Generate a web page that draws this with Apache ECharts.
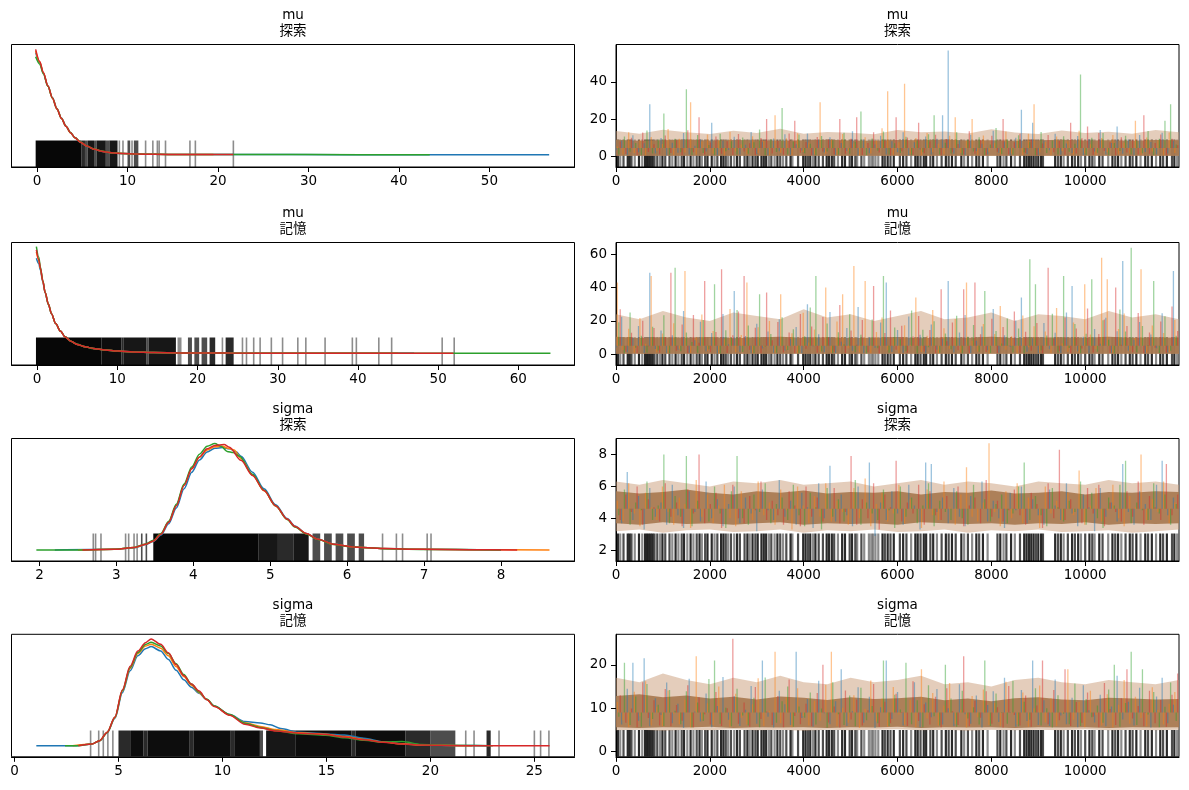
<!DOCTYPE html>
<html lang="ja">
<head>
<meta charset="UTF-8">
<title>trace plot</title>
<script src="https://cdn.jsdelivr.net/npm/echarts@6.0.0/dist/echarts.min.js"></script>
<style>
  html, body { margin: 0; padding: 0; background: #fff; }
  #main { width: 1189px; height: 790px; }
</style>
</head>
<body>
<div id="main"></div>
<script>
// chain colours (matplotlib C0..C3)
var chainColors = ['#1f77b4', '#ff7f0e', '#2ca02c', '#d62728'];

// ---------- tick labels ----------
var muExpXTicks = [0, 10, 20, 30, 40, 50];
var muMemXTicks = [0, 10, 20, 30, 40, 50, 60];
var sigExpXTicks = [2, 3, 4, 5, 6, 7, 8];
var sigMemXTicks = [0, 5, 10, 15, 20, 25];
var iterTicks = [0, 2000, 4000, 6000, 8000, 10000];
var muExpYTicks = [0, 20, 40];
var muMemYTicks = [0, 20, 40, 60];
var sigExpYTicks = [2, 4, 6, 8];
var sigMemYTicks = [0, 10, 20];

// ---------- KDE per chain, [value, density (scaled to peak ~1)] ----------
var muExpKdeC0 = [[-0.15,0.97],[0.3,0.875],[0.7,0.775],[1.2,0.655],[1.7,0.545],[2.2,0.44],[2.7,0.35],[3.2,0.272],[3.7,0.21],[4.2,0.16],[4.8,0.118],[5.5,0.082],[6.3,0.053],[7.2,0.032],[8.2,0.019],[9.5,0.011],[11,0.007],[13,0.0045],[16,0.003],[20,0.002],[28,0.0015],[40,0.001],[56.6,0.001]];
var muExpKdeC1 = [[-0.15,0.985],[0.3,0.88],[0.7,0.778],[1.2,0.652],[1.7,0.54],[2.2,0.437],[2.7,0.347],[3.2,0.27],[3.7,0.208],[4.2,0.16],[4.8,0.119],[5.5,0.083],[6.3,0.054],[7.2,0.033],[8.2,0.02],[9.5,0.012],[11,0.007],[13,0.0045],[16,0.003],[19.5,0.002]];
var muExpKdeC2 = [[-0.15,0.93],[0.3,0.86],[0.7,0.77],[1.2,0.65],[1.7,0.538],[2.2,0.434],[2.7,0.345],[3.2,0.27],[3.7,0.211],[4.2,0.163],[4.8,0.121],[5.5,0.084],[6.3,0.054],[7.2,0.033],[8.2,0.019],[9.5,0.011],[11,0.007],[13,0.0045],[16,0.003],[20,0.002],[30,0.0015],[43.4,0.001]];
var muExpKdeC3 = [[-0.15,1.0],[0.3,0.885],[0.7,0.78],[1.2,0.655],[1.7,0.54],[2.2,0.435],[2.7,0.345],[3.2,0.27],[3.7,0.21],[4.2,0.162],[4.8,0.12],[5.5,0.083],[6.3,0.053],[7.2,0.032],[8.2,0.019],[9.5,0.011],[11,0.007],[13,0.0045],[16,0.003],[19,0.002],[21.7,0.0018]];

var muMemKdeC0 = [[-0.1,0.89],[0.2,0.84],[0.4,0.78],[0.7,0.67],[1.0,0.565],[1.4,0.458],[1.8,0.37],[2.3,0.28],[2.9,0.21],[3.5,0.155],[4.2,0.115],[5.0,0.085],[6.0,0.063],[7.0,0.048],[8.5,0.034],[10,0.023],[12,0.014],[14.5,0.009],[18,0.006],[24,0.004],[32,0.003],[42,0.0025],[47,0.002]];
var muMemKdeC1 = [[-0.1,0.95],[0.2,0.87],[0.4,0.795],[0.7,0.678],[1.0,0.569],[1.4,0.46],[1.8,0.37],[2.3,0.28],[2.9,0.21],[3.5,0.155],[4.2,0.115],[5.0,0.085],[6.0,0.063],[7.0,0.048],[8.5,0.034],[10,0.023],[12,0.014],[14.5,0.009],[18,0.006],[24,0.004],[32,0.003],[45,0.002]];
var muMemKdeC2 = [[-0.1,1.0],[0.2,0.9],[0.4,0.81],[0.7,0.685],[1.0,0.572],[1.4,0.46],[1.8,0.37],[2.3,0.28],[2.9,0.21],[3.5,0.156],[4.2,0.116],[5.0,0.086],[6.0,0.063],[7.0,0.047],[8.5,0.033],[10,0.022],[12,0.014],[14.5,0.009],[18,0.006],[24,0.004],[32,0.003],[42,0.0025],[52,0.002],[64,0.002]];
var muMemKdeC3 = [[-0.1,0.97],[0.2,0.88],[0.4,0.8],[0.7,0.68],[1.0,0.57],[1.4,0.46],[1.8,0.37],[2.3,0.28],[2.9,0.21],[3.5,0.155],[4.2,0.115],[5.0,0.085],[6.0,0.063],[7.0,0.048],[8.5,0.034],[10,0.023],[12,0.014],[14.5,0.009],[18,0.006],[24,0.004],[32,0.003],[42,0.0025],[51.9,0.002]];

var sigExpKdeC0 = [[2.2,0.0],[2.98,0.006],[3.23,0.02],[3.38,0.05],[3.48,0.08],[3.58,0.14],[3.68,0.245],[3.78,0.395],[3.88,0.575],[3.98,0.73],[4.08,0.845],[4.18,0.92],[4.28,0.955],[4.38,0.962],[4.47,0.95],[4.56,0.92],[4.62,0.88],[4.77,0.73],[4.92,0.575],[5.07,0.425],[5.22,0.295],[5.32,0.225],[5.47,0.155],[5.62,0.1],[5.82,0.055],[6.07,0.028],[6.47,0.013],[6.96,0.006],[8.0,0.0]];
var sigExpKdeC1 = [[2.5,0.0],[2.98,0.006],[3.23,0.022],[3.38,0.053],[3.48,0.085],[3.58,0.15],[3.68,0.262],[3.78,0.42],[3.88,0.61],[3.98,0.765],[4.08,0.87],[4.18,0.94],[4.28,0.97],[4.38,0.975],[4.45,0.955],[4.53,0.94],[4.62,0.86],[4.77,0.705],[4.92,0.555],[5.07,0.412],[5.22,0.288],[5.32,0.22],[5.47,0.152],[5.62,0.1],[5.82,0.054],[6.07,0.028],[6.47,0.013],[6.96,0.006],[7.6,0.002],[8.63,0.0]];
var sigExpKdeC2 = [[1.96,0.0],[2.56,0.0],[2.98,0.007],[3.23,0.024],[3.38,0.056],[3.48,0.09],[3.58,0.155],[3.68,0.27],[3.78,0.43],[3.88,0.62],[3.98,0.78],[4.08,0.9],[4.18,0.975],[4.28,1.0],[4.36,0.975],[4.44,0.925],[4.52,0.915],[4.6,0.88],[4.77,0.71],[4.92,0.56],[5.07,0.415],[5.22,0.285],[5.32,0.215],[5.47,0.15],[5.62,0.098],[5.82,0.052],[6.07,0.027],[6.47,0.012],[6.96,0.005],[8.0,0.0]];
var sigExpKdeC3 = [[2.56,0.0],[2.98,0.006],[3.23,0.022],[3.38,0.054],[3.48,0.085],[3.58,0.148],[3.68,0.259],[3.78,0.416],[3.88,0.605],[3.98,0.763],[4.08,0.874],[4.18,0.95],[4.28,0.982],[4.4,0.99],[4.47,0.965],[4.62,0.842],[4.77,0.7],[4.92,0.558],[5.07,0.416],[5.22,0.29],[5.32,0.22],[5.47,0.155],[5.62,0.101],[5.82,0.054],[6.07,0.028],[6.47,0.013],[6.96,0.006],[7.6,0.002],[8.21,0.0]];

var sigMemKdeC0 = [[1.05,0.0],[3.0,0.0],[3.72,0.015],[4.09,0.045],[4.46,0.12],[4.83,0.255],[5.19,0.495],[5.56,0.7],[5.93,0.84],[6.3,0.905],[6.57,0.925],[7.03,0.885],[7.4,0.805],[7.77,0.705],[8.14,0.615],[8.51,0.545],[8.88,0.49],[9.24,0.43],[9.61,0.37],[10.35,0.29],[11.08,0.225],[11.82,0.212],[12.3,0.195],[12.8,0.16],[13.66,0.125],[14.95,0.11],[15.87,0.1],[16.8,0.07],[17.72,0.036],[18.64,0.018],[19.56,0.008],[21.4,0.001],[22.8,0.0]];
var sigMemKdeC1 = [[2.8,0.0],[3.72,0.016],[4.09,0.046],[4.46,0.123],[4.83,0.262],[5.19,0.51],[5.56,0.72],[5.93,0.86],[6.3,0.93],[6.57,0.948],[7.03,0.91],[7.4,0.84],[7.77,0.74],[8.14,0.645],[8.51,0.565],[8.88,0.495],[9.24,0.43],[9.61,0.368],[10.35,0.287],[11.08,0.215],[11.82,0.18],[12.56,0.15],[13.66,0.12],[14.95,0.106],[15.87,0.085],[16.8,0.058],[17.72,0.034],[18.64,0.017],[19.56,0.007],[22,0.0]];
var sigMemKdeC2 = [[2.43,0.0],[3.07,0.0],[3.72,0.016],[4.09,0.046],[4.46,0.124],[4.83,0.265],[5.19,0.515],[5.56,0.73],[5.93,0.87],[6.3,0.945],[6.57,0.965],[7.03,0.93],[7.4,0.86],[7.77,0.765],[8.14,0.665],[8.51,0.575],[8.88,0.5],[9.24,0.435],[9.61,0.37],[10.35,0.29],[11.08,0.21],[11.82,0.17],[12.56,0.14],[13.66,0.112],[14.95,0.098],[15.87,0.075],[16.8,0.05],[17.72,0.033],[18.64,0.04],[19.56,0.012],[21.4,0.001],[23,0.0]];
var sigMemKdeC3 = [[3.07,0.0],[3.72,0.016],[4.09,0.047],[4.46,0.126],[4.83,0.268],[5.19,0.521],[5.56,0.741],[5.93,0.883],[6.3,0.962],[6.57,0.997],[7.03,0.946],[7.4,0.867],[7.77,0.757],[8.14,0.655],[8.51,0.575],[8.88,0.51],[9.24,0.43],[9.61,0.365],[10.35,0.284],[11.08,0.2],[11.82,0.165],[12.56,0.138],[13.66,0.117],[14.95,0.104],[15.87,0.08],[16.8,0.055],[17.72,0.032],[18.64,0.016],[19.56,0.006],[21.4,0.0],[25.73,0.0]];

// ---------- divergent draws on the value axis: [from, to, count] ----------
var muExpRug = [[-0.15,4.9,6],[4.9,5.3,3],[5.3,5.6,2],[5.6,6.3,4],[6.3,6.6,2],[6.6,7.6,4],[7.6,8.0,2],[8.0,8.9,4],[9.1,9.1,1],[9.5,9.5,1],[10.0,10.3,2],[10.5,10.5,1],[10.7,11.2,2],[12.0,12.0,1],[12.8,12.8,1],[13.3,13.3,1],[13.5,13.5,1],[14.2,14.2,1],[16.9,16.9,1],[17.5,17.5,1],[21.7,21.7,1]];
var muMemRug = [[-0.15,8.0,6],[8.0,10.5,5],[10.5,10.8,3],[10.8,13.6,4],[13.6,13.9,2],[13.9,17.3,4],[17.5,18.0,1],[18.8,19.3,2],[19.6,20.2,2],[20.5,21.2,2],[21.5,22.2,3],[23.0,23.2,1],[23.5,24.5,3],[25.6,25.6,1],[26.1,26.1,1],[27.0,27.0,1],[27.8,27.8,1],[29.2,29.2,1],[30.6,30.6,1],[32.5,32.5,1],[33.5,33.5,1],[35.9,35.9,1],[39.3,39.3,1],[39.8,39.8,1],[42.6,42.6,1],[44.2,44.2,1],[50.5,50.5,1],[52.0,52.0,1]];
var sigExpRug = [[2.70,2.70,1],[2.73,2.73,1],[2.80,2.80,1],[3.12,3.12,1],[3.16,3.16,1],[3.23,3.23,1],[3.27,3.27,1],[3.33,3.33,2],[3.38,3.40,2],[3.48,4.85,6],[4.85,5.1,4],[5.1,5.3,3],[5.3,5.5,4],[5.55,5.65,2],[5.7,5.8,2],[5.85,5.95,2],[6.0,6.1,2],[6.15,6.22,2],[6.46,6.46,1],[6.64,6.64,1],[6.72,6.72,1],[7.04,7.04,1],[7.09,7.09,1]];
var sigMemRug = [[3.66,3.66,1],[4.05,4.05,1],[4.27,4.27,1],[4.49,4.49,1],[4.73,4.73,1],[5.0,5.6,3],[5.6,6.2,5],[6.2,6.4,3],[6.4,8.4,5],[8.4,8.6,3],[8.6,10.4,5],[10.4,10.6,3],[10.6,11.8,5],[11.8,11.95,2],[12.1,13.5,4],[13.5,16.2,5],[16.2,16.4,3],[16.4,18.8,5],[18.8,20.0,3],[20.0,21.2,2],[21.7,21.7,1],[22.1,22.1,1],[22.7,22.9,3],[23.3,23.3,1],[25.0,25.0,1],[25.3,25.3,1],[25.7,25.7,1]];

// ---------- divergent draws by iteration: [iteration, count] ----------
var divIters = [[40,3],[90,1],[160,2],[250,3],[290,3],[330,2],[400,1],[490,3],[560,1],[620,3],[660,3],[700,3],[740,3],[780,3],[820,2],[880,2],[940,1],[990,3],[1050,2],[1140,2],[1200,1],[1270,3],[1330,1],[1400,2],[1450,3],[1520,1],[1590,3],[1650,1],[1720,2],[1780,3],[1830,1],[1900,2],[1950,3],[2040,3],[2100,1],[2160,2],[2240,3],[2290,3],[2340,2],[2390,1],[2450,2],[2520,1],[2580,3],[2640,2],[2740,2],[2800,3],[2850,1],[2910,3],[2970,2],[3020,3],[3100,3],[3150,3],[3200,3],[3260,1],[3310,2],[3380,1],[3440,3],[3500,2],[3560,1],[3630,2],[3720,3],[3760,1],[3880,2],[3990,3],[4040,3],[4090,2],[4140,3],[4200,1],[4250,3],[4320,2],[4410,2],[4490,3],[4540,3],[4600,3],[4650,2],[4730,1],[4820,3],[4880,3],[4980,2],[5030,3],[5100,2],[5140,1],[5230,2],[5290,1],[5390,1],[5440,1],[5480,1],[5530,1],[5590,1],[5680,3],[5730,2],[5790,3],[5850,2],[5920,3],[6050,2],[6120,3],[6190,2],[6290,1],[6380,3],[6430,3],[6490,2],[6560,3],[6610,3],[6700,2],[6760,3],[6840,1],[6940,2],[7030,3],[7090,2],[7160,3],[7240,2],[7360,3],[7420,1],[7500,2],[7590,1],[7680,3],[7740,2],[7820,3],[7920,1],[8130,2],[8190,3],[8260,1],[8320,2],[8420,3],[8500,1],[8610,2],[8700,3],[8750,3],[8800,3],[8850,3],[8900,3],[8950,2],[9000,3],[9060,3],[9100,2],[9360,3],[9420,2],[9480,3],[9540,1],[9630,2],[9720,3],[9780,2],[9850,3],[9910,1],[10000,2],[10090,3],[10150,2],[10200,1],[10300,3],[10370,2],[10490,1],[10580,3],[10640,2],[10700,3],[10770,1],[10860,2],[10950,3],[11010,2],[11090,3],[11180,1],[11280,3],[11340,2],[11420,3],[11510,1],[11600,3],[11660,2],[11740,3],[11850,2],[11900,3],[11960,1]];

// ---------- traces: one draw every traceStep iterations, chains offset by traceOffset ----------
var traceStep = 120;
var traceOffset = [0, 30, 60, 90];
var muExpC0 = [3.1,8.4,0.6,11.2,2.0,6.9,28,1.4,9.8,0.3, 7.2,1.8,12.5,0.9,5.6,9.1,2.4,18,0.5,8.2, 3.3,10.4,0.8,6.1,13.0,1.1,7.7,0.4,9.5,2.6, 11.8,0.7,6.4,3.0,12.2,0.5,8.8,1.9,10.1,0.6, 7.0,2.8,13.4,0.3,9.0,1.5,6.3,11.0,0.9,8.0, 2.1,12.8,0.4,7.4,3.6,10.6,0.8,9.3,22,57, 1.2,8.6,0.5,11.5,2.7,6.6,0.9,13.7,1.6,7.9, 0.3,9.9,25,1.0,18,0.6,8.3,3.2,12.0,0.7, 6.8,1.7,10.8,0.4,9.2,2.5,14.1,0.8,7.1,16, 1.3,8.9,0.5,11.3,2.2,7.6,0.9,12.6,1.4,8.1];
var muExpC1 = [5.2,0.8,12.9,1.6,8.7,0.4,10.3,2.9,6.5,14.6, 0.6,9.4,1.9,29,0.7,7.8,11.6,1.2,8.5,0.3, 13.1,2.4,6.2,0.9,10.7,1.5,8.1,0.5,22,1.8, 9.6,0.4,12.3,2.2,7.3,0.8,29,1.3,9.0,0.6, 11.9,2.7,6.8,0.5,10.2,1.4,8.4,15.0,35,0.7, 7.5,39,1.1,9.7,0.4,12.4,2.0,6.7,0.9,10.9, 21,1.6,8.2,20,0.5,11.1,2.3,7.0,0.8,13.3, 1.2,9.1,0.6,12.0,28,1.9,7.6,0.4,10.5,2.8, 8.0,0.7,13.6,1.5,6.4,0.5,9.8,2.1,11.4,0.9, 7.2,1.3,19,0.6,10.0,2.5,8.6,0.4,12.7,1.7];
var muExpC2 = [0.9,10.6,2.3,7.1,0.5,13.8,1.4,8.9,23,0.7, 9.3,2.0,36,0.6,11.4,1.7,6.0,0.4,12.1,2.6, 8.0,0.8,10.0,1.3,7.4,14.3,0.5,9.1,2.2,26, 0.9,7.9,11.7,1.5,6.6,0.4,10.8,2.4,8.5,0.7, 12.6,1.2,7.7,24,0.6,9.5,2.9,13.2,0.8,6.9, 1.6,10.4,0.5,8.3,2.1,11.8,22,0.9,7.2,1.4, 12.9,0.6,8.8,2.5,10.1,0.4,6.3,15.1,1.1,9.0, 0.7,11.2,2.0,7.5,0.5,13.0,1.6,8.4,0.9,10.7, 2.3,6.7,44,0.6,9.9,1.8,12.4,0.4,7.0,2.7, 11.0,0.8,8.1,1.5,13.5,0.5,9.4,19,28,6.2];
var muExpC3 = [7.8,1.1,9.9,0.4,12.7,2.2,6.4,0.8,11.1,1.6, 8.6,0.5,13.9,2.0,21,0.9,7.3,10.5,1.3,8.0, 0.6,11.9,2.5,6.9,0.4,9.7,20,1.4,8.2,0.7, 12.2,19,1.8,7.6,0.5,10.3,2.4,8.9,0.8,20, 1.2,9.4,21,0.6,7.1,12.8,1.9,8.3,0.4,21, 2.6,10.0,0.7,18,1.5,7.8,11.5,0.5,9.2,2.1, 6.5,0.9,13.4,1.3,8.7,0.4,10.9,2.3,20,0.8, 7.4,12.1,1.7,9.0,0.5,6.8,11.3,2.0,8.1,0.7, 18,1.4,9.6,16,0.6,12.5,2.8,7.5,0.4,10.2, 1.9,8.5,0.8,22,1.2,7.0,11.6,0.5,9.3,5.8];

var muMemC0 = [4.0,22.5,1.2,9.8,17.0,0.7,49,3.1,14.2,0.5, 11.3,2.6,26.0,0.9,8.4,19.5,1.8,12.7,0.4,24.1, 6.0,38,1.5,10.9,0.6,18.3,3.4,13.6,0.8,21.0, 2.2,9.1,16.4,0.5,30,4.8,12.0,1.1,25.3,0.7, 7.5,15.8,2.0,28.4,0.6,10.2,3.9,19.1,43,1.3, 14.5,0.8,22.7,5.1,11.6,0.4,17.9,2.7,9.3,44, 1.0,13.1,23.6,0.6,8.0,16.7,2.4,27.2,0.9,11.4, 4.5,20.3,34,1.4,9.6,0.5,18.8,3.0,12.9,0.7, 25.0,41,1.7,10.5,0.4,15.2,6.3,21.9,0.8,13.8, 56,2.1,8.7,19.4,0.6,11.9,3.6,24.6,1.2,50];
var muMemC1 = [43,2.5,15.3,0.8,21.7,6.2,47,1.0,12.4,0.5, 18.6,3.3,50,0.7,10.1,23.8,1.9,14.0,0.4,8.9, 27.1,1.2,11.5,43,0.6,16.2,4.4,20.0,0.9,36, 2.8,12.6,0.5,24.9,7.0,14.9,1.4,40,0.8,19.7, 36,3.6,53,1.1,44,0.6,13.3,22.0,2.3,9.5, 0.7,17.4,5.5,34,1.3,11.0,26.5,0.5,15.6,3.2, 21.2,0.9,43,8.1,1.6,18.1,0.4,12.2,29.0,2.6, 10.7,0.6,23.3,4.1,16.8,1.0,13.7,0.5,27.8,6.6, 1.5,19.0,0.8,42,11.8,3.1,58,45,0.6,15.1, 24.4,2.0,9.9,51,0.7,17.2,5.0,12.8,1.3,20.6];
var muMemC2 = [19.2,0.6,25.0,3.8,11.1,0.9,16.5,2.2,23.4,0.5, 52,1.7,13.0,7.3,0.8,20.6,2.9,42,0.4,14.4, 9.7,26.6,1.3,17.3,0.6,36,4.6,12.1,0.9,22.2, 2.5,15.0,0.5,10.8,28.1,47,1.6,18.4,0.7,13.2, 5.9,24.0,1.1,11.7,0.4,20.9,3.5,47,0.8,16.0, 9.0,1.8,26.2,0.5,14.7,4.2,19.8,0.9,12.5,2.9, 23.1,0.6,10.4,17.6,1.4,38,0.7,13.9,6.4,21.5, 1.0,15.5,0.5,57,42,2.4,11.2,24.3,0.8,47, 3.7,18.2,0.6,12.3,45,1.5,20.4,8.6,0.4,26.9, 13.6,64,1.2,17.0,5.3,44,0.7,22.8,2.0,11.0];
var muMemC3 = [27.0,1.4,12.9,0.6,20.1,4.7,15.7,0.8,10.3,49, 2.1,17.8,0.5,23.5,6.8,44,1.2,13.4,51,0.7, 11.4,25.6,47,2.7,15.9,0.5,37,8.3,19.3,1.0, 13.1,0.6,24.2,3.2,16.6,0.9,22.4,10.0,1.5,29.6, 0.7,14.3,5.7,20.5,1.1,41,0.4,12.8,26.3,2.6, 17.1,0.8,10.6,23.0,1.6,14.6,0.5,39,7.8,19.0, 2.3,39,0.6,43,12.0,1.3,21.3,0.7,16.3,4.9, 25.7,0.9,13.5,2.0,18.7,0.5,52,9.4,1.8,22.1, 0.6,15.4,3.4,27.5,1.0,12.2,20.8,0.7,40,5.6, 16.9,1.1,24.7,0.5,13.0,3.8,19.6,0.8,28.6,14.0];

var sigExpC0 = [4.6,3.7,6.9,3.9,5.4,3.3,5.9,4.1,5.0,3.6, 6.1,4.2,3.4,5.7,4.4,3.8,6.3,4.0,5.2,3.5, 4.9,6.0,3.7,5.3,4.3,3.2,5.8,4.5,3.9,6.4, 4.1,5.1,3.6,5.6,4.7,3.4,6.2,4.0,7.3,3.8, 5.5,4.2,3.5,6.0,4.6,7.5,2.9,5.0,3.9,5.7, 4.3,3.6,6.1,4.8,3.3,7.5,7.4,4.4,5.3,3.7, 5.9,4.1,3.5,5.4,4.6,6.3,3.8,5.1,4.0,3.4, 5.6,4.5,6.0,3.7,5.2,4.2,3.6,5.8,4.8,3.9, 6.2,4.3,3.5,5.5,4.7,3.2,5.9,4.1,5.0,3.8, 7.4,4.4,3.6,5.7,4.9,3.9,6.1,7.6,4.2,5.3];
var sigExpC1 = [5.1,3.8,6.2,4.3,3.5,5.6,4.7,3.9,6.0,4.4, 3.6,5.3,4.9,3.4,6.4,4.1,5.5,3.7,4.8,6.1, 4.0,3.5,5.7,4.6,3.9,6.3,4.2,5.0,3.6,5.8, 4.5,3.3,6.0,4.8,3.7,5.4,4.1,6.2,3.8,5.1, 4.4,3.6,5.9,4.0,6.5,3.5,4.9,5.6,3.8,4.3, 6.1,3.7,5.2,4.6,3.4,5.8,4.2,3.9,6.3,4.7, 3.6,5.5,7.2,4.1,3.8,5.0,8.7,4.4,3.5,5.7, 4.0,6.2,3.7,5.3,4.6,3.4,6.0,4.3,5.1,3.9, 5.6,4.2,7.0,3.6,4.8,5.9,3.8,4.5,6.1,4.0, 3.5,5.4,4.7,8.0,3.9,5.2,4.4,6.3,3.7,5.0];
var sigExpC2 = [4.2,5.8,3.6,5.0,4.5,6.3,3.9,4.8,8.0,3.7, 5.4,4.1,7.9,3.5,5.1,4.6,3.8,6.0,4.3,3.4, 5.7,7.9,4.0,3.6,5.5,4.4,6.2,3.7,4.9,5.3, 3.9,6.1,4.2,3.5,5.6,4.7,3.3,5.9,4.1,5.2, 3.8,4.6,6.4,3.6,5.0,4.3,3.9,5.8,4.5,3.4, 6.0,4.1,5.3,3.7,4.8,6.2,3.5,5.1,4.4,3.9, 5.7,4.0,3.6,6.1,4.6,5.2,3.8,4.9,5.5,3.7, 4.3,6.0,7.5,3.9,5.4,4.2,3.5,5.9,4.7,3.8, 5.1,4.4,6.3,3.6,5.6,4.0,3.4,5.3,4.8,6.1, 7.6,3.7,5.0,4.5,3.9,6.2,4.3,5.5,3.6,4.9];
var sigExpC3 = [3.9,5.5,4.4,6.0,3.6,5.2,4.7,3.8,6.2,4.1, 5.0,3.5,5.8,4.3,8.0,3.7,4.9,5.6,3.4,4.6, 6.1,4.0,3.7,5.4,4.5,6.3,3.9,5.1,4.2,3.6, 5.7,4.8,3.5,6.0,4.1,5.3,3.8,4.6,5.9,3.7, 4.4,7.9,3.6,5.2,4.0,6.2,3.3,5.5,4.7,7.6, 3.8,5.0,4.3,6.1,3.6,5.7,4.2,3.9,5.4,4.6, 6.0,3.5,4.8,5.3,3.7,6.4,4.1,5.1,3.8,4.5, 5.8,4.2,3.6,5.6,4.9,3.4,6.2,4.0,8.3,3.9, 5.2,4.6,3.7,5.9,4.3,6.1,3.5,5.0,4.4,3.8, 5.7,4.1,6.3,3.6,5.4,4.7,3.9,7.4,4.2,5.5];

var sigMemC0 = [9.8,6.2,14.5,20.5,7.1,21.5,5.8,12.3,8.4,15.9, 6.5,11.0,5.4,16.8,9.2,6.9,13.4,5.6,10.5,17.2, 7.3,12.8,5.9,9.6,15.1,6.4,21,8.0,5.5,14.0, 10.9,6.1,23,7.7,12.1,5.7,16.3,8.8,6.3,11.6, 19,5.9,9.3,14.8,6.6,12.6,5.4,10.2,21,7.5, 13.7,6.0,9.0,16.0,5.6,11.3,7.9,14.4,6.2,10.0, 5.8,15.5,8.6,6.4,12.9,5.5,10.7,13.9,6.8,17, 9.1,5.7,14.2,7.0,21,6.1,11.8,5.9,16.6,8.3, 6.3,12.4,5.6,15.3,9.5,6.7,13.1,5.8,10.4,17.5, 7.4,11.5,6.0,14.7,8.9,5.5,12.7,17,6.5,10.8];
var sigMemC1 = [11.4,7.2,5.6,13.8,8.1,16.2,6.0,10.3,5.8,14.1, 8.7,6.3,12.0,5.5,22,7.4,11.1,6.1,15.0,9.0, 5.7,13.3,7.8,6.2,10.9,16.9,5.9,9.4,23,6.5, 12.5,5.6,14.6,8.2,6.0,11.7,7.1,15.4,23,5.8, 10.1,6.6,13.0,5.4,9.8,16.4,6.9,12.2,5.7,14.9, 8.5,6.2,11.9,5.6,19,7.6,13.5,6.0,10.6,15.8, 6.4,9.7,5.5,12.8,7.9,14.3,6.1,11.2,5.8,16.1, 8.8,6.3,13.6,5.7,10.0,15.2,6.7,12.3,5.9,9.2, 19,7.3,11.4,5.6,14.0,8.4,6.0,13.2,5.5,10.8, 16.5,6.4,12.6,7.7,5.8,14.8,9.6,6.2,11.0,13.7];
var sigMemC2 = [8.0,20.5,6.1,12.7,5.7,15.6,7.5,10.8,5.9,14.2, 9.4,6.3,13.9,5.5,11.3,7.0,16.7,21,6.4,10.1, 5.8,14.5,8.3,6.0,12.4,5.6,17.1,9.0,6.6,11.6, 15.0,5.7,10.4,7.8,13.6,6.2,9.9,5.5,16.0,8.6, 6.1,12.9,5.8,14.7,7.2,10.5,6.5,21,5.9,13.1, 9.7,20.5,6.3,11.8,5.6,15.3,8.1,6.0,20,12.2, 5.7,14.0,7.6,10.2,6.2,21,5.9,13.4,9.1,6.4, 16.3,5.8,11.5,7.3,14.6,6.0,10.0,5.5,13.0,8.7, 6.3,15.7,5.9,12.1,7.9,10.6,6.6,14.3,20,5.7, 11.2,23,6.1,19,8.5,13.7,5.6,10.3,15.9,7.0];
var sigMemC3 = [13.0,6.6,9.9,5.6,16.0,7.7,11.8,6.0,14.4,5.8, 10.7,7.1,15.3,5.5,12.5,8.6,6.2,13.7,5.9,10.0, 26,6.4,11.3,5.7,14.9,7.5,9.2,6.1,12.8,5.6, 16.6,8.2,6.3,11.0,5.8,13.5,20,6.7,10.4,5.5, 14.1,7.4,12.0,6.0,9.5,15.6,5.7,11.5,6.5,13.3, 8.9,5.9,16.2,7.0,10.9,6.2,12.6,5.6,14.6,9.3, 6.1,22,5.8,11.7,7.8,13.9,6.4,10.2,5.5,15.1, 8.4,6.0,12.9,5.7,10.6,21,6.3,14.2,7.2,19, 5.9,11.4,6.6,13.6,8.0,5.6,15.8,9.8,6.1,12.3, 19,7.6,10.5,5.8,14.0,6.5,11.9,5.7,13.1,18];

// median of the draws (centre of the bulk)
var muExpMedian = 4.3, muMemMedian = 5.0, sigExpMedian = 4.6, sigMemMedian = 9.0;

// ---------- bulk of overlapping draws (inner = solid, outer = fringe), one value every bandStep iterations ----------
var bandStep = 500;
var muExpBandLo = [0.2,0.2,0.2,0.2,0.2,0.2,0.2,0.2,0.2,0.2,0.2,0.2,0.2,0.2,0.2,0.2,0.2,0.2,0.2,0.2,0.2,0.2,0.2,0.2,0.2];
var muExpBandHi = [8.8,8.3,8.6,8.9,8.4,8.7,8.5,8.2,8.6,8.8,8.4,8.3,8.7,8.5,8.9,8.4,8.6,8.2,8.5,8.8,8.4,8.6,8.3,8.7,8.5];
var muExpOuterLo = [0.1,0.1,0.1,0.1,0.1,0.1,0.1,0.1,0.1,0.1,0.1,0.1,0.1,0.1,0.1,0.1,0.1,0.1,0.1,0.1,0.1,0.1,0.1,0.1,0.1];
var muExpOuterHi = [13.5,12.0,14.2,12.8,11.9,13.6,12.4,14.8,12.1,13.0,12.6,11.8,14.0,12.9,13.3,12.2,14.5,12.7,11.9,13.8,12.5,13.1,12.0,14.1,12.8];
var muMemBandLo = [0.2,0.2,0.2,0.2,0.2,0.2,0.2,0.2,0.2,0.2,0.2,0.2,0.2,0.2,0.2,0.2,0.2,0.2,0.2,0.2,0.2,0.2,0.2,0.2,0.2];
var muMemBandHi = [10.4,9.7,10.1,9.8,10.3,9.6,10.0,10.5,9.8,10.2,9.7,9.9,10.3,9.6,10.1,9.8,10.4,9.7,10.0,10.2,9.8,10.5,9.9,10.1,9.8];
var muMemOuterLo = [0.1,0.1,0.1,0.1,0.1,0.1,0.1,0.1,0.1,0.1,0.1,0.1,0.1,0.1,0.1,0.1,0.1,0.1,0.1,0.1,0.1,0.1,0.1,0.1,0.1];
var muMemOuterHi = [24,21,26,22,20,25,23,21,27,22,24,20,23,26,21,22,25,20,24,23,21,26,22,24,21];
var sigExpBandLo = [3.7,3.6,3.75,3.65,3.7,3.6,3.7,3.75,3.6,3.7,3.65,3.7,3.6,3.75,3.7,3.65,3.7,3.6,3.7,3.65,3.75,3.6,3.7,3.65,3.7];
var sigExpBandHi = [5.7,5.55,5.65,5.8,5.6,5.5,5.7,5.6,5.75,5.55,5.65,5.6,5.7,5.5,5.65,5.6,5.75,5.55,5.6,5.7,5.5,5.65,5.6,5.7,5.65];
var sigExpOuterLo = [3.2,3.3,3.1,3.25,3.3,3.15,3.2,3.3,3.1,3.25,3.2,3.3,3.15,3.2,3.3,3.1,3.25,3.2,3.3,3.15,3.2,3.25,3.1,3.2,3.3];
var sigExpOuterHi = [6.3,6.1,6.4,6.2,6.0,6.3,6.2,6.4,6.1,6.2,6.3,6.0,6.2,6.4,6.1,6.3,6.2,6.0,6.3,6.2,6.1,6.4,6.2,6.3,6.1];
var sigMemBandLo = [5.6,5.4,5.6,5.5,5.7,5.4,5.6,5.5,5.6,5.4,5.6,5.5,5.7,5.4,5.6,5.5,5.6,5.4,5.6,5.5,5.6,5.4,5.6,5.5,5.6];
var sigMemBandHi = [12.8,13.2,12.5,12.9,12.2,12.6,12.0,12.7,12.4,11.9,12.5,12.1,12.3,12.6,11.8,12.2,11.6,12.3,12.5,12.0,11.8,12.4,12.2,12.0,12.1];
var sigMemOuterLo = [4.9,5.0,4.8,5.0,4.9,5.1,4.9,5.0,4.8,5.0,4.9,5.0,5.1,4.9,5.0,4.8,5.0,4.9,5.0,4.9,5.1,4.9,5.0,4.9,5.0];
var sigMemOuterHi = [17,16,18,16.5,15.5,17,16,17.5,16,15.5,17,16,16.5,17.5,15.5,16,15,16.5,17,16,15.5,16.5,16,15.5,16.5];

// ---------- layout ----------
var FONT = "'DejaVu Sans', 'Noto Sans CJK JP', sans-serif";
var rowTop = [44.5, 242.5, 438.5, 634.3];
var boxH = 122.5;
var colLeft = [11.5, 616];
var boxW = 563;

var panels = [
  { title: 'mu\n探索', kde: [muExpKdeC0, muExpKdeC1, muExpKdeC2, muExpKdeC3], rug: muExpRug,
    xMin: -2.82, xMax: 59.4, xTicks: muExpXTicks, yMin: -0.116, yMax: 1.047, rugTop: 0.135,
    trace: [muExpC0, muExpC1, muExpC2, muExpC3], median: muExpMedian,
    band: [muExpBandLo, muExpBandHi], outer: [muExpOuterLo, muExpOuterHi],
    tMin: -5.9, tMax: 60.2, tTicks: muExpYTicks, divTop: 8.9 },
  { title: 'mu\n記憶', kde: [muMemKdeC0, muMemKdeC1, muMemKdeC2, muMemKdeC3], rug: muMemRug,
    xMin: -3.2, xMax: 67.0, xTicks: muMemXTicks, yMin: -0.107, yMax: 1.038, rugTop: 0.151,
    trace: [muMemC0, muMemC1, muMemC2, muMemC3], median: muMemMedian,
    band: [muMemBandLo, muMemBandHi], outer: [muMemOuterLo, muMemOuterHi],
    tMin: -6.5, tMax: 67.1, tTicks: muMemYTicks, divTop: 10.1 },
  { title: 'sigma\n探索', kde: [sigExpKdeC0, sigExpKdeC1, sigExpKdeC2, sigExpKdeC3], rug: sigExpRug,
    xMin: 1.637, xMax: 8.955, xTicks: sigExpXTicks, yMin: -0.104, yMax: 1.047, rugTop: 0.155,
    trace: [sigExpC0, sigExpC1, sigExpC2, sigExpC3], median: sigExpMedian,
    band: [sigExpBandLo, sigExpBandHi], outer: [sigExpOuterLo, sigExpOuterHi],
    tMin: 1.33, tMax: 9.0, tTicks: sigExpYTicks, divTop: 3.05 },
  { title: 'sigma\n記憶', kde: [sigMemKdeC0, sigMemKdeC1, sigMemKdeC2, sigMemKdeC3], rug: sigMemRug,
    xMin: -0.144, xMax: 26.93, xTicks: sigMemXTicks, yMin: -0.104, yMax: 1.04, rugTop: 0.142,
    trace: [sigMemC0, sigMemC1, sigMemC2, sigMemC3], median: sigMemMedian,
    band: [sigMemBandLo, sigMemBandHi], outer: [sigMemOuterLo, sigMemOuterHi],
    tMin: -1.24, tMax: 27.05, tTicks: sigMemYTicks, divTop: 4.96 }
];

function tickAxis(ticks, margin) {
  return {
    axisLine: { show: true, onZero: false, lineStyle: { color: '#000', width: 1 } },
    axisTick: { show: true, length: 5, customValues: ticks, lineStyle: { color: '#000', width: 1 } },
    axisLabel: { show: true, customValues: ticks, margin: margin, color: '#000', fontSize: 13.5,
                 fontFamily: FONT, formatter: function (v) { return String(v); } },
    splitLine: { show: false }
  };
}

// vertical strip from yFrom to yTo covering [value0, value1], darkness from count
function stripRenderer(yFrom, yTo, minW) {
  return function (params, api) {
    var p0 = api.coord([api.value(0), yFrom]);
    var p1 = api.coord([api.value(1), yTo]);
    var w = Math.max(p1[0] - p0[0], minW);
    var cx = (p0[0] + p1[0]) / 2;
    return {
      type: 'rect',
      shape: { x: cx - w / 2, y: p1[1], width: w, height: p0[1] - p1[1] },
      style: { fill: '#000', opacity: 1 - Math.pow(0.55, api.value(2)) }
    };
  };
}

function bandRenderer(lo, hi, fill, alpha) {
  return function (params, api) {
    var pts = [];
    for (var i = 0; i < lo.length; i++) pts.push(api.coord([i * bandStep, lo[i]]));
    for (var j = hi.length - 1; j >= 0; j--) pts.push(api.coord([j * bandStep, hi[j]]));
    return { type: 'polygon', shape: { points: pts }, style: { fill: fill, opacity: alpha } };
  };
}

// each draw as a stroke from the bulk centre to its value
function strokeRenderer(base, color) {
  return function (params, api) {
    var a = api.coord([api.value(0), base]);
    var b = api.coord([api.value(0), api.value(1)]);
    return { type: 'line', shape: { x1: a[0], y1: a[1], x2: b[0], y2: b[1] },
             style: { stroke: color, lineWidth: 1.3, opacity: 0.45 } };
  };
}

var grids = [], xAxes = [], yAxes = [], series = [], texts = [];

panels.forEach(function (p, r) {
  var gL = r * 2, gR = r * 2 + 1;
  [gL, gR].forEach(function (g, c) {
    grids.push({ left: colLeft[c], top: rowTop[r], width: boxW, height: boxH,
                 show: true, borderColor: '#000', borderWidth: 1, backgroundColor: '#fff' });
    texts.push({ type: 'text', x: colLeft[c] + boxW / 2, y: rowTop[r] - 37, silent: true,
                 style: { text: p.title, align: 'center', verticalAlign: 'top', fill: '#000',
                          font: '13.5px ' + FONT, lineHeight: 16.3 } });
  });

  // left: KDE + rug of divergent draws
  xAxes.push(Object.assign({ type: 'value', gridIndex: gL, min: p.xMin, max: p.xMax }, tickAxis(p.xTicks, 8)));
  yAxes.push({ type: 'value', gridIndex: gL, min: p.yMin, max: p.yMax, show: false, splitLine: { show: false } });
  series.push({ type: 'custom', xAxisIndex: gL, yAxisIndex: gL, clip: true, silent: true,
                renderItem: stripRenderer(p.yMin, p.rugTop, 1.6),
                encode: { x: [0, 1], y: 2 }, data: p.rug });
  p.kde.forEach(function (k, i) {
    series.push({ type: 'line', xAxisIndex: gL, yAxisIndex: gL, data: k, smooth: 0.3, smoothMonotone: 'x',
                  showSymbol: false, symbol: 'none', silent: true,
                  lineStyle: { width: 1.5, color: chainColors[i] } });
  });

  // right: trace
  xAxes.push(Object.assign({ type: 'value', gridIndex: gR, min: 0, max: 11999 }, tickAxis(iterTicks, 8)));
  yAxes.push(Object.assign({ type: 'value', gridIndex: gR, min: p.tMin, max: p.tMax }, tickAxis(p.tTicks, 9)));
  series.push({ type: 'custom', xAxisIndex: gR, yAxisIndex: gR, clip: true, silent: true,
                renderItem: stripRenderer(p.tMin, p.divTop, 2.2),
                encode: { x: [0, 1], y: 2 },
                data: divIters.map(function (d) { return [d[0], d[0], d[1]]; }) });
  series.push({ type: 'custom', xAxisIndex: gR, yAxisIndex: gR, clip: true, silent: true,
                renderItem: bandRenderer(p.outer[0], p.outer[1], '#c99b77', 0.5),
                encode: { x: 0, y: 1 }, data: [[0, p.outer[0][0]]] });
  series.push({ type: 'custom', xAxisIndex: gR, yAxisIndex: gR, clip: true, silent: true,
                renderItem: bandRenderer(p.band[0], p.band[1], '#a6784f', 0.9),
                encode: { x: 0, y: 1 }, data: [[0, p.band[0][0]]] });
  p.trace.forEach(function (t, i) {
    series.push({ type: 'custom', xAxisIndex: gR, yAxisIndex: gR, clip: true, silent: true,
                  renderItem: strokeRenderer(p.median, chainColors[i]),
                  encode: { x: 0, y: 1 },
                  data: t.map(function (v, j) { return [j * traceStep + traceOffset[i], v]; }) });
  });
});

var myChart = echarts.init(document.getElementById('main'));
myChart.setOption({
  animation: false,
  backgroundColor: '#fff',
  textStyle: { fontFamily: FONT },
  grid: grids,
  xAxis: xAxes,
  yAxis: yAxes,
  graphic: texts,
  series: series
});
</script>
</body>
</html>
